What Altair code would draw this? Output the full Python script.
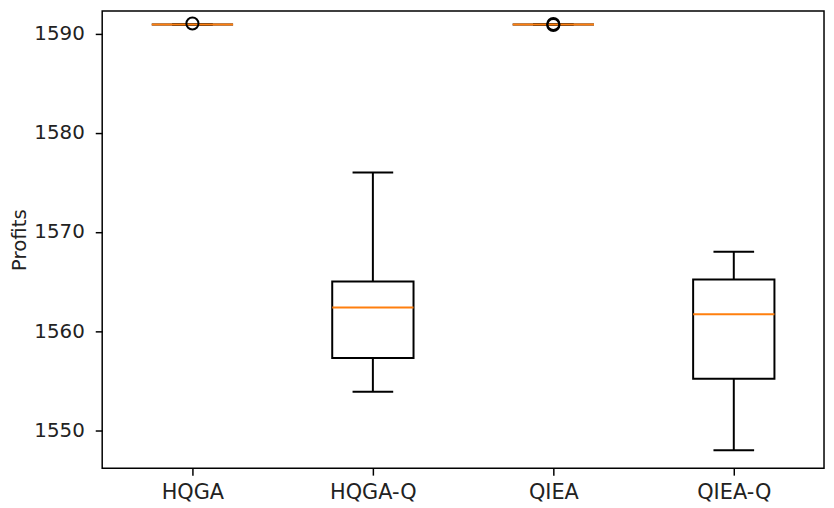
import altair as alt
import pandas as pd

methods = ["HQGA", "HQGA-Q", "QIEA", "QIEA-Q"]
whisker_low = [1590.9, 1553.9, 1590.9, 1548.0]
q1 = [1590.9, 1557.3, 1590.9, 1555.2]
median = [1590.9, 1562.4, 1590.9, 1561.7]
q3 = [1590.9, 1565.0, 1590.9, 1565.2]
whisker_high = [1590.9, 1576.0, 1590.9, 1568.0]

flier_methods = ["HQGA", "QIEA", "QIEA"]
flier_values = [1591.0, 1590.85, 1590.95]

y_ticks = [1550, 1560, 1570, 1580, 1590]

df = pd.DataFrame({
    "method": methods,
    "lo": whisker_low,
    "q1": q1,
    "med": median,
    "q3": q3,
    "hi": whisker_high,
})
fl = pd.DataFrame({"method": flier_methods, "value": flier_values})

FONT = "DejaVu Sans"
ORANGE = "#ff7f0e"

x_enc = alt.X(
    "method:N",
    sort=methods,
    scale=alt.Scale(type="point", padding=0.5),
    axis=alt.Axis(title=None, labelAngle=0, labelPadding=7, labelFontSize=21),
)
y_scale = alt.Scale(domain=[1546.2, 1592.25], nice=False, zero=False)
y_axis = alt.Axis(values=y_ticks, format="d", title="Profits", grid=False, labelPadding=11,
                  titleX=-73, titleAngle=-90)


def Y(field):
    return alt.Y(field, type="quantitative", scale=y_scale, axis=y_axis, title="Profits")


base = alt.Chart(df)

whisk_lo = base.mark_rule(color="black", strokeWidth=2).encode(
    x=x_enc, y=Y("lo"), y2="q1")
whisk_hi = base.mark_rule(color="black", strokeWidth=2).encode(
    x=x_enc, y=Y("q3"), y2="hi")
box = base.mark_bar(size=82, fill="white", stroke="black", strokeWidth=2).encode(
    x=x_enc, y=Y("q1"), y2="q3")
cap_lo = base.mark_tick(size=41, thickness=2, color="black", orient="horizontal", opacity=1).encode(
    x=x_enc, y=Y("lo"))
cap_hi = base.mark_tick(size=41, thickness=2, color="black", orient="horizontal", opacity=1).encode(
    x=x_enc, y=Y("hi"))
med = base.mark_tick(size=82, thickness=2, color=ORANGE, orient="horizontal", opacity=1).encode(
    x=x_enc, y=Y("med"))
fliers = alt.Chart(fl).mark_point(shape="circle", filled=False, size=150, color="black",
                                  strokeWidth=2, opacity=1).encode(
    x=x_enc, y=Y("value"))

chart = alt.layer(whisk_lo, whisk_hi, box, cap_lo, cap_hi, med, fliers).properties(
    width=728,
    height=461,
    autosize=alt.AutoSizeParams(type="none"),
    padding={"left": 95, "top": 1, "right": 2, "bottom": 37},
).configure_view(
    stroke="black", strokeWidth=1.5
).configure_axis(
    domain=False,
    tickColor="black",
    tickSize=7,
    tickWidth=1.5,
    labelFont=FONT,
    labelFontSize=20,
    labelColor="#222222",
    titleFont=FONT,
    titleFontSize=20,
    titleFontWeight="normal",
    titleColor="#222222",
)

chart.save("out.html", embed_options={"renderer": "svg", "actions": False})
